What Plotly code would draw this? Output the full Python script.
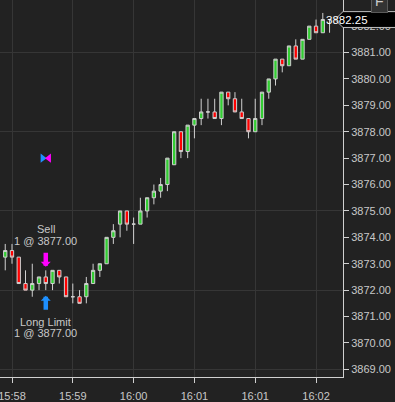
import plotly.graph_objects as go

# ---- data ----
bar_index = list(range(49))
opens = [3873.25, 3873.5, 3873.25, 3872.25, 3872.0, 3872.25, 3872.5, 3872.25, 3872.75, 3872.5,
         3871.75, 3871.75, 3871.75, 3872.25, 3872.75, 3873.0, 3874.0, 3874.5, 3875.0, 3874.5,
         3874.5, 3875.0, 3875.5, 3875.75, 3876.0, 3876.75, 3878.0, 3877.25, 3878.25, 3878.5,
         3878.75, 3878.75, 3878.5, 3879.5, 3879.25, 3878.75, 3878.5, 3878.0, 3878.5, 3879.5,
         3880.0, 3880.75, 3880.5, 3881.25, 3880.75, 3881.5, 3882.0, 3881.75, 3882.25]
highs = [3873.75, 3873.75, 3873.25, 3872.75, 3873.0, 3872.5, 3872.75, 3872.75, 3872.75, 3872.5,
         3872.25, 3872.0, 3872.5, 3873.0, 3873.0, 3874.0, 3874.5, 3875.0, 3875.0, 3874.75,
         3875.5, 3875.5, 3876.0, 3876.25, 3877.0, 3878.0, 3878.0, 3878.25, 3878.5, 3879.25,
         3879.25, 3879.25, 3879.5, 3879.5, 3879.5, 3879.25, 3878.5, 3879.25, 3879.5, 3880.0,
         3880.75, 3880.75, 3881.25, 3881.5, 3881.5, 3882.0, 3882.25, 3882.5, 3882.25]
lows = [3872.75, 3873.0, 3872.25, 3872.0, 3871.75, 3872.0, 3872.0, 3872.0, 3872.25, 3871.75,
        3871.5, 3871.5, 3871.5, 3872.25, 3872.5, 3873.0, 3873.75, 3874.0, 3874.25, 3873.75,
        3874.5, 3874.75, 3875.25, 3875.5, 3875.75, 3876.75, 3877.0, 3877.0, 3877.75, 3878.25,
        3878.5, 3878.5, 3878.25, 3879.0, 3878.75, 3878.5, 3877.75, 3878.0, 3878.25, 3879.25,
        3879.75, 3880.25, 3880.5, 3880.75, 3880.75, 3881.5, 3881.75, 3881.75, 3881.75]
closes = [3873.5, 3873.25, 3872.25, 3872.0, 3872.25, 3872.5, 3872.25, 3872.75, 3872.5, 3871.75,
          3871.75, 3871.5, 3872.25, 3872.75, 3873.0, 3874.0, 3874.25, 3875.0, 3874.5, 3874.5,
          3875.0, 3875.5, 3875.75, 3876.0, 3877.0, 3878.0, 3877.25, 3878.25, 3878.5, 3878.75,
          3878.75, 3878.5, 3879.5, 3879.25, 3878.75, 3878.5, 3878.0, 3878.5, 3879.5, 3880.0,
          3880.75, 3880.5, 3881.25, 3880.75, 3881.5, 3882.0, 3881.75, 3882.25, 3882.25]

time_tick_index = [1, 10, 19, 28, 37, 46]
time_tick_labels = ["15:58", "15:59", "16:00", "16:01", "16:01", "16:02"]

order_index = 6
order_price = 3877.00
sell_label = ["Sell", "1 @ 3877.00"]
buy_label = ["Long Limit", "1 @ 3877.00"]
last_price = 3882.25

# ---- style ----
BG = "#222222"
GRID = "#363636"
AXIS = "#d0d0d0"
TXT = "#c8c8c8"
OUTLINE = "#d0d0d0"
FONT = "Liberation Sans, Arial, sans-serif"

fig = go.Figure()
fig.add_trace(go.Candlestick(
    x=bar_index, open=opens, high=highs, low=lows, close=closes,
    increasing=dict(line=dict(color=OUTLINE, width=1), fillcolor="#32cd32"),
    decreasing=dict(line=dict(color=OUTLINE, width=1), fillcolor="#ff0000"),
    whiskerwidth=0, showlegend=False, hoverinfo="skip",
))
# empty trace carrying the coarse horizontal grid
fig.add_trace(go.Scatter(x=[], y=[], yaxis="y2", showlegend=False))

# order marker (bow tie)
fig.add_trace(go.Scatter(x=[order_index - 0.47], y=[order_price], mode="markers",
                         marker=dict(symbol="triangle-right", size=8, color="#1e90ff"),
                         showlegend=False, hoverinfo="skip"))
fig.add_trace(go.Scatter(x=[order_index + 0.47], y=[order_price], mode="markers",
                         marker=dict(symbol="triangle-left", size=8, color="#ff00ff"),
                         showlegend=False, hoverinfo="skip"))

yr = [3868.71, 3882.99]
xr = [-0.776, 49.99]

ann = []
hi = highs[order_index]
lo = lows[order_index]
# sell arrow (magenta, down)
ann.append(dict(x=order_index, y=hi, xref="x", yref="y", text=" ", font=dict(size=1),
                borderpad=0, showarrow=True, arrowhead=1, arrowsize=0.37, arrowwidth=4.5,
                arrowcolor="#ff00ff", ax=0, ay=-15, yshift=3.5))
# buy arrow (blue, up)
ann.append(dict(x=order_index, y=lo, xref="x", yref="y", text=" ", font=dict(size=1),
                borderpad=0, showarrow=True, arrowhead=1, arrowsize=0.37, arrowwidth=4.5,
                arrowcolor="#1e90ff", ax=0, ay=15, yshift=-5.7))
for txt, sh in zip(sell_label, [41.5, 29.5]):
    ann.append(dict(x=order_index, y=hi, xref="x", yref="y", text=txt, showarrow=False,
                    yshift=sh, yanchor="middle", font=dict(size=11, color=TXT, family=FONT)))
for txt, sh in zip(buy_label, [-31.7, -42.7]):
    ann.append(dict(x=order_index, y=lo, xref="x", yref="y", text=txt, showarrow=False,
                    yshift=sh, yanchor="middle", font=dict(size=11, color=TXT, family=FONT)))
# last price label
ann.append(dict(x=1.078, xref="paper", y=last_price, yref="y", text=f"{last_price:.2f}",
                showarrow=False, font=dict(size=11.5, color="#ffffff", family=FONT)))
# "F" button
ann.append(dict(x=1.131, xref="paper", y=1.0, yref="paper", text="F", showarrow=False,
                yanchor="middle", yshift=-1, bgcolor="#333333", bordercolor="#5a5a5a",
                borderwidth=1, borderpad=3, font=dict(size=14, color="#cccccc", family=FONT)))

h = 0.30
shapes = [dict(type="path", xref="paper", yref="y", layer="above",
               path=(f"M 0.9767,{last_price} L 1.0,{last_price + h} L 1.17,{last_price + h} "
                     f"L 1.17,{last_price - h} L 1.0,{last_price - h} Z"),
               fillcolor="#000000", line=dict(color="#c0c0c0", width=1))]

fig.update_layout(
    width=395, height=402,
    margin=dict(l=0, r=52, t=0, b=25, autoexpand=False),
    paper_bgcolor=BG, plot_bgcolor=BG,
    font=dict(family=FONT, color=TXT, size=11),
    annotations=ann, shapes=shapes,
    xaxis=dict(range=xr, rangeslider=dict(visible=False), tickmode="array",
               tickvals=time_tick_index, ticktext=time_tick_labels,
               showgrid=True, gridcolor=GRID, gridwidth=1, zeroline=False,
               showline=True, linecolor=AXIS, linewidth=1,
               ticks="outside", ticklen=5, tickcolor=AXIS, tickwidth=1,
               tickfont=dict(size=11, color=TXT, family=FONT), automargin=False,
               ticklabeloverflow="allow", ticklabelstandoff=4, fixedrange=True),
    yaxis=dict(range=yr, side="right", dtick=1, tick0=3869, tickformat=".2f",
               showgrid=False, zeroline=False, showline=True, linecolor=AXIS, linewidth=1,
               ticks="outside", ticklen=5, tickcolor=AXIS, tickwidth=1, automargin=False,
               tickfont=dict(size=11, color=TXT, family=FONT), ticklabeloverflow="allow"),
    yaxis2=dict(range=yr, overlaying="y", side="left", dtick=3, tick0=3869,
                showgrid=True, gridcolor=GRID, gridwidth=1, zeroline=False, automargin=False,
                showticklabels=False, ticks="", showline=False),
)

fig.write_html("out.html", config={"displayModeBar": False},
               post_script="document.body.style.margin='0';document.body.style.padding='0';"
                           "document.body.style.background='#222222';")
